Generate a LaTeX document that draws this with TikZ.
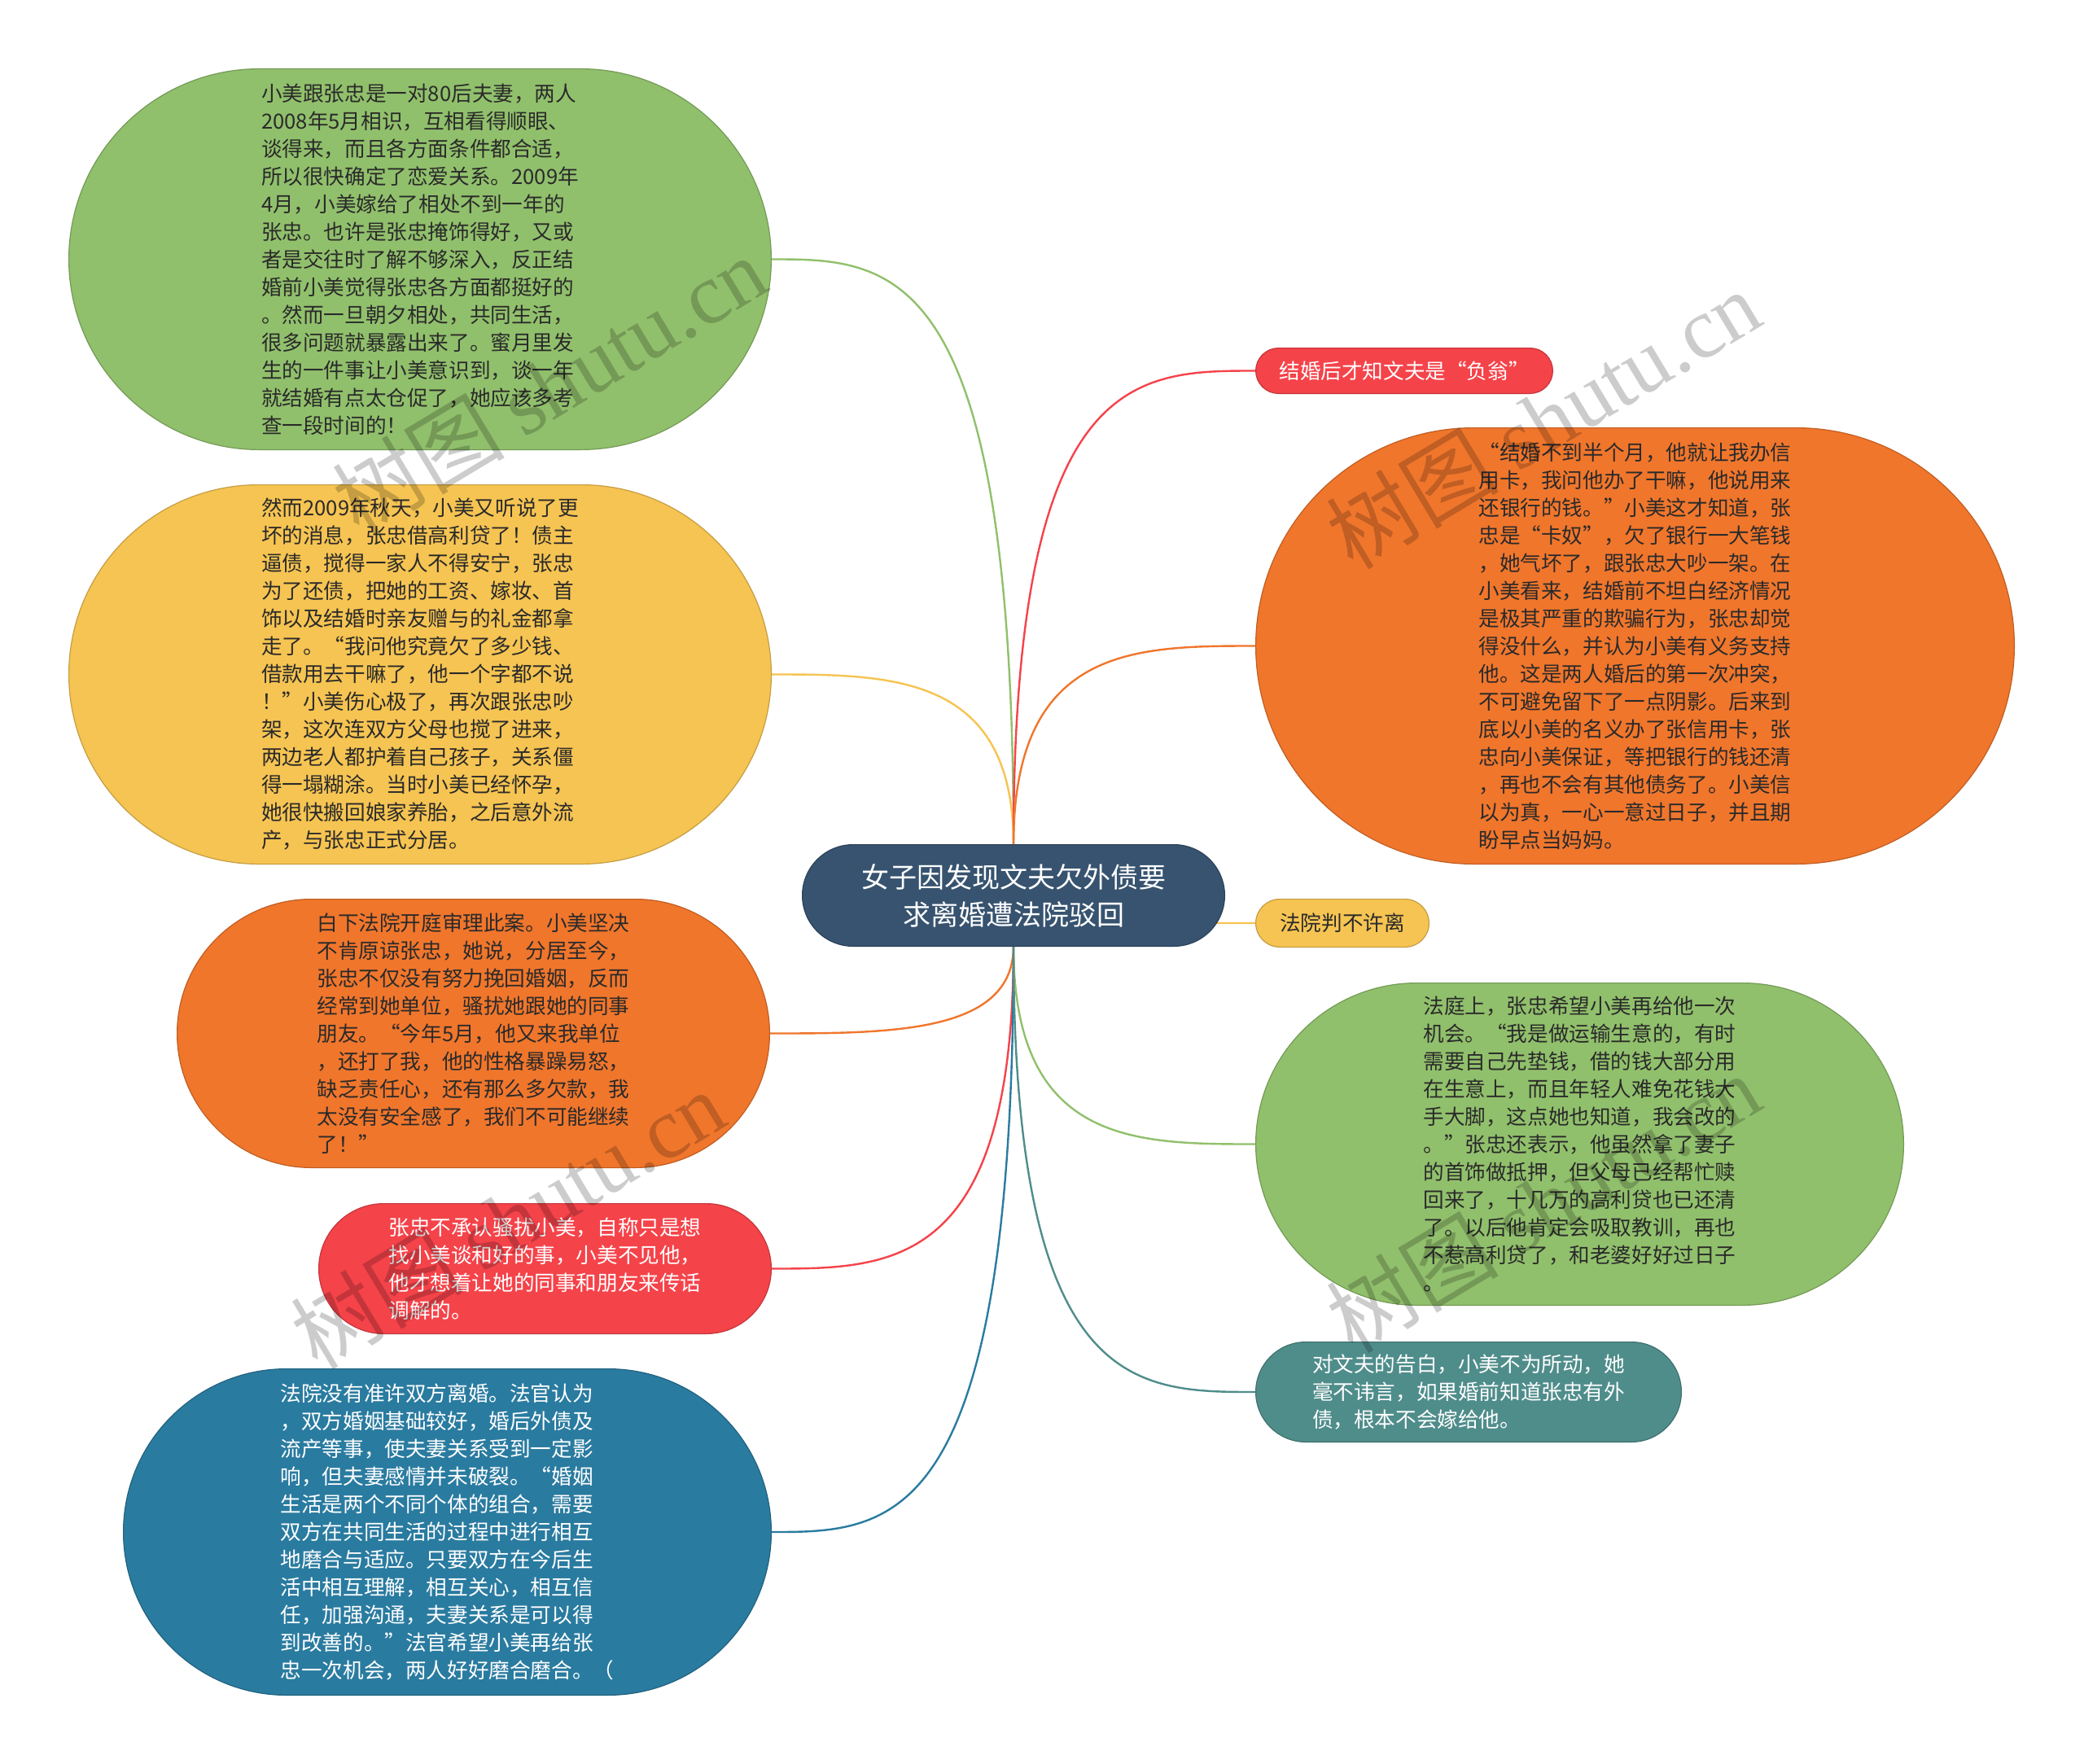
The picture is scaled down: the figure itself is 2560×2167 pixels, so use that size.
\documentclass[tikz,border=0pt]{standalone}
\usepackage{fontspec}
\setmainfont{Noto Sans CJK SC}
\newfontfamily\wmlatin{Liberation Serif}
\usetikzlibrary{calc}
\pgfdeclarelayer{bg}
\pgfdeclarelayer{shp}
\pgfsetlayers{bg,shp,main}
\definecolor{cgreen}{HTML}{91C06C}
\definecolor{cyellow}{HTML}{F6C452}
\definecolor{corange}{HTML}{F0762C}
\definecolor{cred}{HTML}{F5434A}
\definecolor{cblue}{HTML}{2A7BA0}
\definecolor{cteal}{HTML}{4F8D8B}
\definecolor{ccenter}{HTML}{37536F}
\definecolor{tdark}{HTML}{2A2A2A}
\newcommand\bub[2]{%
\begin{pgfonlayer}{shp}
\path[fill=#2, draw=#2!80!black, line width=0.6pt]
 let \p1=(#1.north west), \p2=(#1.south east), \n1={(\y1-\y2)/2}, \n2={0.552*\n1} in
 ({\x1+\n1*1pt},\y1) -- ({\x2-\n1*1pt},\y1)
 .. controls ({\x2-\n1*1pt+\n2*1pt},\y1) and (\x2,{\y1-\n1*1pt+\n2*1pt}) .. (\x2,{\y1-\n1*1pt})
 .. controls (\x2,{\y2+\n1*1pt-\n2*1pt}) and ({\x2-\n1*1pt+\n2*1pt},\y2) .. ({\x2-\n1*1pt},\y2)
 -- ({\x1+\n1*1pt},\y2)
 .. controls ({\x1+\n1*1pt-\n2*1pt},\y2) and (\x1,{\y2+\n1*1pt-\n2*1pt}) .. (\x1,{\y2+\n1*1pt})
 .. controls (\x1,{\y1-\n1*1pt+\n2*1pt}) and ({\x1+\n1*1pt-\n2*1pt},\y1) .. cycle;
\end{pgfonlayer}}
\newcommand\link[3]{\draw[conn,#1] (#2) .. controls (#2 |- #3) and ($(#2 |- #3)!0.5!(#3)$) .. (#3);}
\tikzset{
 txt/.style={inner sep=0pt, align=left, text=tdark, font=\fontsize{12.8pt}{17pt}\selectfont},
 wtxt/.style={txt, text=white},
 ctxt/.style={inner sep=0pt, align=center, text=white, font=\fontsize{17pt}{23pt}\selectfont},
 conn/.style={line width=1.2pt},
 wm/.style={anchor=base west, rotate=31, inner sep=0pt, text=black, text opacity=0.2, font=\fontsize{53pt}{56pt}\selectfont}
}
\begin{document}
\begin{tikzpicture}[x=0.5pt,y=-0.5pt]
\useasboundingbox (0,0) rectangle (2560,2167);
% center
\node[ctxt, minimum width=259pt, minimum height=62pt] (c) at (1245,1100) {女子因发现文夫欠外债要\\求离婚遭法院驳回};
% left nodes
\node[txt, minimum width=431pt, minimum height=233.5pt] (g1) at (516,318.5) {小美跟张忠是一对80后夫妻，两人\\2008年5月相识，互相看得顺眼、\\谈得来，而且各方面条件都合适，\\所以很快确定了恋爱关系。2009年\\4月，小美嫁给了相处不到一年的\\张忠。也许是张忠掩饰得好，又或\\者是交往时了解不够深入，反正结\\婚前小美觉得张忠各方面都挺好的\\。然而一旦朝夕相处，共同生活，\\很多问题就暴露出来了。蜜月里发\\生的一件事让小美意识到，谈一年\\就结婚有点太仓促了，她应该多考\\查一段时间的！};
\node[txt, minimum width=431pt, minimum height=232.5pt] (y1) at (516,828.5) {然而2009年秋天，小美又听说了更\\坏的消息，张忠借高利贷了！债主\\逼债，搅得一家人不得安宁，张忠\\为了还债，把她的工资、嫁妆、首\\饰以及结婚时亲友赠与的礼金都拿\\走了。“我问他究竟欠了多少钱、\\借款用去干嘛了，他一个字都不说\\！”小美伤心极了，再次跟张忠吵\\架，这次连双方父母也搅了进来，\\两边老人都护着自己孩子，关系僵\\得一塌糊涂。当时小美已经怀孕，\\她很快搬回娘家养胎，之后意外流\\产，与张忠正式分居。};
\node[txt, minimum width=363.5pt, minimum height=164.5pt] (o1) at (581.5,1269.5) {白下法院开庭审理此案。小美坚决\\不肯原谅张忠，她说，分居至今，\\张忠不仅没有努力挽回婚姻，反而\\经常到她单位，骚扰她跟她的同事\\朋友。“今年5月，他又来我单位\\，还打了我，他的性格暴躁易怒，\\缺乏责任心，还有那么多欠款，我\\太没有安全感了，我们不可能继续\\了！”};
\node[wtxt, minimum width=277.5pt, minimum height=79.5pt] (r1) at (669.5,1558.5) {张忠不承认骚扰小美，自称只是想\\找小美谈和好的事，小美不见他，\\他才想着让她的同事和朋友来传话\\调解的。};
\node[wtxt, minimum width=397.5pt, minimum height=200pt] (b1) at (549.5,1882) {法院没有准许双方离婚。法官认为\\，双方婚姻基础较好，婚后外债及\\流产等事，使夫妻关系受到一定影\\响，但夫妻感情并未破裂。“婚姻\\生活是两个不同个体的组合，需要\\双方在共同生活的过程中进行相互\\地磨合与适应。只要双方在今后生\\活中相互理解，相互关心，相互信\\任，加强沟通，夫妻关系是可以得\\到改善的。”法官希望小美再给张\\忠一次机会，两人好好磨合磨合。（};
% right nodes
\node[wtxt, minimum width=182pt, minimum height=27.5pt] (r2) at (1725,455.5) {结婚后才知文夫是“负翁”};
\node[txt, minimum width=465.5pt, minimum height=267.5pt] (o2) at (2008.5,793.5) {“结婚不到半个月，他就让我办信\\用卡，我问他办了干嘛，他说用来\\还银行的钱。”小美这才知道，张\\忠是“卡奴”，欠了银行一大笔钱\\，她气坏了，跟张忠大吵一架。在\\小美看来，结婚前不坦白经济情况\\是极其严重的欺骗行为，张忠却觉\\得没什么，并认为小美有义务支持\\他。这是两人婚后的第一次冲突，\\不可避免留下了一点阴影。后来到\\底以小美的名义办了张信用卡，张\\忠向小美保证，等把银行的钱还清\\，再也不会有其他债务了。小美信\\以为真，一心一意过日子，并且期\\盼早点当妈妈。};
\node[txt, minimum width=106pt, minimum height=29pt] (y2) at (1649,1134) {法院判不许离};
\node[txt, minimum width=397.5pt, minimum height=197.5pt] (g2) at (1940.5,1405.5) {法庭上，张忠希望小美再给他一次\\机会。“我是做运输生意的，有时\\需要自己先垫钱，借的钱大部分用\\在生意上，而且年轻人难免花钱大\\手大脚，这点她也知道，我会改的\\。”张忠还表示，他虽然拿了妻子\\的首饰做抵押，但父母已经帮忙赎\\回来了，十几万的高利贷也已还清\\了。以后他肯定会吸取教训，再也\\不惹高利贷了，和老婆好好过日子\\。};
\node[wtxt, minimum width=261pt, minimum height=61pt] (t1) at (1804,1710) {对文夫的告白，小美不为所动，她\\毫不讳言，如果婚前知道张忠有外\\债，根本不会嫁给他。};
% shapes
\bub{c}{ccenter}
\bub{g1}{cgreen}
\bub{y1}{cyellow}
\bub{o1}{corange}
\bub{r1}{cred}
\bub{b1}{cblue}
\bub{r2}{cred}
\bub{o2}{corange}
\bub{y2}{cyellow}
\bub{g2}{cgreen}
\bub{t1}{cteal}
% connectors
\begin{pgfonlayer}{bg}
\fill[white] (0,0) rectangle (2560,2167);
\link{cgreen}{c.north}{g1.east}
\link{cyellow}{c.north}{y1.east}
\link{corange}{c.south}{o1.east}
\link{cred}{c.south}{r1.east}
\link{cblue}{c.south}{b1.east}
\link{cred}{c.north}{r2.west}
\link{corange}{c.north}{o2.west}
\link{cyellow}{c.center}{y2.west}
\link{cgreen}{c.south}{g2.west}
\link{cteal}{c.south}{t1.west}
\end{pgfonlayer}
% watermarks
\node[wm] (wm1) at (441,660) {树图 {\wmlatin shutu.cn}};
\node[wm] (wm2) at (1662,702) {树图 {\wmlatin shutu.cn}};
\node[wm] (wm3) at (390,1685) {树图 {\wmlatin shutu.cn}};
\node[wm] (wm4) at (1662,1665) {树图 {\wmlatin shutu.cn}};
\end{tikzpicture}
\end{document}
